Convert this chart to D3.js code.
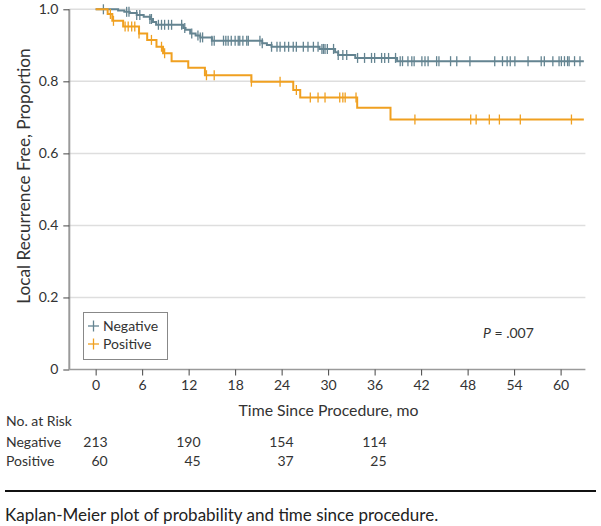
<!DOCTYPE html>
<html>
<head>
<meta charset="utf-8">
<script src="https://cdn.jsdelivr.net/npm/d3@7/dist/d3.min.js"></script>
<style>
  html, body { margin: 0; padding: 0; background: #fff; }
  svg { display: block; font-family: Lato, "Open Sans", sans-serif; }
</style>
</head>
<body>
<svg id="chart" width="601" height="526"></svg>
<script>
// ---- Data ----
const seriesNames = ["Negative", "Positive"];
const xTicks = [0, 6, 12, 18, 24, 30, 36, 42, 48, 54, 60];
const yTicks = [0, 0.2, 0.4, 0.6, 0.8, 1.0];
const yTickLabels = ["0", "0.2", "0.4", "0.6", "0.8", "1.0"];
const followUpEnd = 63;

// Negative: event times (mo) and survival after each step
const negTimes = [2.9, 3.7, 4.4, 5.3, 6.2, 7.0, 7.4, 7.8, 11.3, 11.6, 12.2, 12.9, 13.5, 15.0, 21.5, 22.1, 22.7, 28.9, 30.9, 31.3, 33.5, 38.9];
const negSurv  = [0.997, 0.993, 0.990, 0.984, 0.979, 0.973, 0.965, 0.957, 0.948, 0.943, 0.933, 0.927, 0.922, 0.913, 0.906, 0.901, 0.896, 0.890, 0.881, 0.873, 0.865, 0.856];
const negCensor = [1.0, 4.0, 4.3, 5.3, 5.7, 7.0, 7.2, 8.1, 8.5, 8.9, 9.4, 9.8, 11.1, 11.5, 12.4, 13.2, 13.5, 13.8, 15.0, 15.3, 16.5, 16.8, 17.1, 17.5, 18.0, 18.4, 18.6, 19.0, 19.5, 19.7, 21.2, 21.5, 22.7, 23.4, 23.8, 24.4, 24.9, 25.5, 25.9, 26.8, 27.4, 28.1, 28.7, 29.2, 29.4, 29.6, 29.9, 30.7, 31.3, 31.9, 32.4, 33.8, 34.7, 35.6, 36.0, 36.9, 37.3, 37.8, 38.7, 39.3, 39.6, 40.3, 40.8, 41.1, 42.1, 42.5, 42.9, 44.0, 44.3, 45.8, 46.6, 48.3, 51.5, 52.5, 53.1, 53.5, 54.1, 55.8, 57.5, 57.9, 59.0, 59.8, 60.1, 60.5, 60.9, 61.1, 61.8, 62.5];

// Positive
const posTimes = [1.55, 2.15, 3.55, 5.6, 6.65, 7.85, 8.7, 9.8, 11.95, 14.1, 20.1, 25.5, 26.4, 33.75, 38.05];
const posSurv  = [0.987, 0.968, 0.952, 0.933, 0.915, 0.896, 0.878, 0.856, 0.838, 0.817, 0.799, 0.776, 0.755, 0.727, 0.694];
const posCensor = [1.9, 2.3, 3.8, 4.2, 4.65, 5.05, 5.6, 7.2, 8.5, 8.9, 14.3, 15.3, 20.1, 23.8, 25.9, 27.7, 28.7, 29.6, 31.5, 31.9, 32.2, 33.6, 41.2, 48.4, 49.1, 50.8, 52.1, 54.8, 61.4];

// Number at risk
const riskTimes = [0, 12, 24, 36];
const riskNegative = [213, 190, 154, 114];
const riskPositive = [60, 45, 37, 25];

const pValueText = ".007";
const caption = "Kaplan-Meier plot of probability and time since procedure.";

// ---- Styles ----
const colors = { Negative: "#648491", Positive: "#f0a020" };
const textColor = "#333";

const svg = d3.select("#chart");

const x = d3.scaleLinear().domain([-3.4, 63.2]).range([69.3, 585.4]);
const y = d3.scaleLinear().domain([0, 1]).range([369.5, 9.3]);

// gridlines
svg.append("g").selectAll("line").data(yTicks.filter(d => d > 0)).join("line")
  .attr("x1", x.range()[0]).attr("x2", x.range()[1])
  .attr("y1", d => y(d)).attr("y2", d => y(d))
  .attr("stroke", "#dedede").attr("stroke-width", 1.5);

// y axis
const yAxis = d3.axisLeft(y).tickValues(yTicks).tickSize(6).tickPadding(5)
  .tickFormat((d, i) => yTickLabels[i]);
const gy = svg.append("g").attr("transform", `translate(${x.range()[0]},0)`).call(yAxis);
gy.select(".domain").attr("stroke", "#9a9a9a").attr("stroke-width", 2).attr("d", `M0,${y(1)}V${y(0)}`);
gy.selectAll(".tick line").attr("stroke", "#444").attr("stroke-width", 1);
gy.selectAll(".tick text").attr("fill", textColor).style("font-size", "14px").style("font-family", "Lato");

// x axis
const xAxis = d3.axisBottom(x).tickValues(xTicks).tickSize(6).tickPadding(5);
const gx = svg.append("g").attr("transform", `translate(0,${y(0)})`).call(xAxis);
gx.select(".domain").attr("stroke", "#9a9a9a").attr("stroke-width", 1.5).attr("d", `M${x.range()[0]},0H${x.range()[1]}`);
gx.selectAll(".tick line").attr("stroke", "#444").attr("stroke-width", 1);
gx.selectAll(".tick text").attr("fill", textColor).style("font-size", "14px").style("font-family", "Lato");

// axis titles
svg.append("text")
  .attr("transform", "translate(30,176) rotate(-90)")
  .attr("text-anchor", "middle").attr("fill", textColor)
  .style("font-size", "17.2px")
  .text("Local Recurrence Free, Proportion");

svg.append("text")
  .attr("x", 328.5).attr("y", 416)
  .attr("text-anchor", "middle").attr("fill", textColor)
  .style("font-size", "15.8px")
  .text("Time Since Procedure, mo");

// curves
const line = d3.line().x(d => x(d[0])).y(d => y(d[1])).curve(d3.curveStepAfter);
function kmPoints(times, surv) {
  const pts = [[0, 1]];
  times.forEach((t, i) => pts.push([t, surv[i]]));
  pts.push([followUpEnd, surv[surv.length - 1]]);
  return pts;
}
function survAt(times, surv, t) {
  let s = 1;
  for (let i = 0; i < times.length; i++) { if (times[i] <= t) s = surv[i]; }
  return s;
}
const series = [
  { name: "Negative", times: negTimes, surv: negSurv, censor: negCensor },
  { name: "Positive", times: posTimes, surv: posSurv, censor: posCensor }
];
series.forEach(s => {
  const g = svg.append("g");
  g.append("path").datum(kmPoints(s.times, s.surv))
    .attr("d", line).attr("fill", "none")
    .attr("stroke", colors[s.name]).attr("stroke-width", 2);
  g.selectAll("line.c").data(s.censor).join("line").attr("class", "c")
    .attr("x1", d => x(d)).attr("x2", d => x(d))
    .attr("y1", d => y(survAt(s.times, s.surv, d)) - 5)
    .attr("y2", d => y(survAt(s.times, s.surv, d)) + 5)
    .attr("stroke", colors[s.name]).attr("stroke-width", 1.3);
});

// legend
const lg = svg.append("g");
lg.append("rect").attr("x", 83.5).attr("y", 312.5).attr("width", 84).attr("height", 47)
  .attr("fill", "#fff").attr("stroke", "#888").attr("stroke-width", 1);
seriesNames.forEach((n, i) => {
  const cy = 326 + i * 18;
  lg.append("line").attr("x1", 88).attr("x2", 99).attr("y1", cy).attr("y2", cy)
    .attr("stroke", colors[n]).attr("stroke-width", 1.3);
  lg.append("line").attr("x1", 93.5).attr("x2", 93.5).attr("y1", cy - 5.5).attr("y2", cy + 5.5)
    .attr("stroke", colors[n]).attr("stroke-width", 1.3);
  lg.append("text").attr("x", 103).attr("y", cy + 5).attr("fill", textColor)
    .style("font-size", "14px").text(n);
});

// P value
const pt = svg.append("text").attr("x", 483).attr("y", 338).attr("fill", textColor).style("font-size", "14px");
pt.append("tspan").style("font-style", "italic").text("P");
pt.append("tspan").text(" = " + pValueText);

// at-risk table
svg.append("text").attr("x", 6).attr("y", 426).attr("fill", textColor).style("font-size", "14px").text("No. at Risk");
[["Negative", riskNegative, 447], ["Positive", riskPositive, 466]].forEach(([n, vals, yy]) => {
  svg.append("text").attr("x", 6).attr("y", yy).attr("fill", textColor).style("font-size", "14px").text(n);
  svg.append("g").selectAll("text").data(vals).join("text")
    .attr("x", (d, i) => x(riskTimes[i]) + 12).attr("y", yy)
    .attr("text-anchor", "end").attr("fill", textColor).style("font-size", "14px")
    .text(d => d);
});

// separator and caption
svg.append("line").attr("x1", 5).attr("x2", 596).attr("y1", 491).attr("y2", 491)
  .attr("stroke", "#111").attr("stroke-width", 2);
svg.append("text").attr("x", 5).attr("y", 521).attr("fill", "#222")
  .style("font-size", "17px").text(caption);
</script>
</body>
</html>
